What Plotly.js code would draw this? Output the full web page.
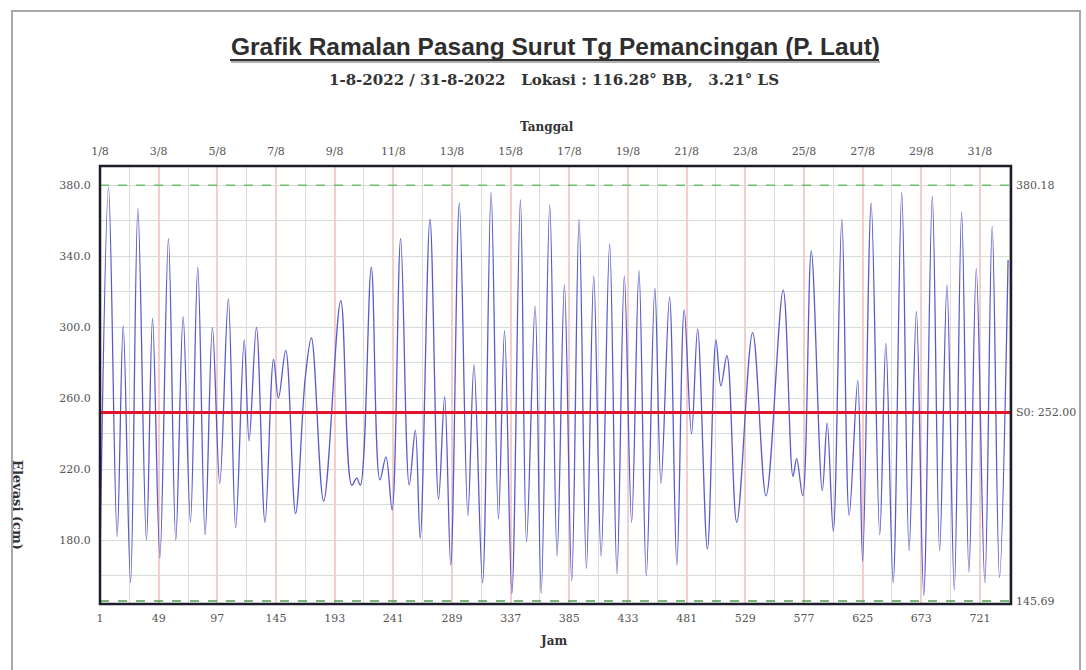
<!DOCTYPE html>
<html>
<head>
<meta charset="utf-8">
<script src="https://cdn.plot.ly/plotly-3.0.1.min.js"></script>
<style>
  html, body { margin: 0; padding: 0; background: #fff; }
  #wrap { position: relative; width: 1086px; height: 670px; overflow: hidden; }
  #border { position: absolute; left: 11px; top: 10px; width: 1070px; height: 700px;
            border: 2px solid #a8a8a8; box-sizing: border-box; pointer-events: none; }
  #chart { position: absolute; left: 0; top: 0; width: 1086px; height: 670px; }
</style>
</head>
<body>
<div id="wrap">
  <div id="chart"></div>
  <div id="border"></div>
</div>
<script>
// Turning points of the predicted tide (hour, elevation in cm)
const turnHours = [1, 8, 15, 20, 26, 32, 39, 44, 50, 57, 63, 69, 75, 81, 87, 93, 99, 106, 112, 119,
  123, 129, 136, 143, 147, 153, 161, 169, 174, 184, 198, 207, 211, 214, 223, 230, 235, 240, 247, 254,
  259, 263, 271, 278, 283, 288, 295, 302, 307, 314, 321, 327, 332, 338, 345, 350, 357, 362, 369, 375,
  381, 387, 393, 399, 405, 411, 418, 424, 430, 436, 442, 448, 455, 460, 467, 473, 479, 485, 490, 498,
  505, 509, 514, 522, 535, 546, 560, 568, 571, 576, 583, 592, 596, 601, 608, 614, 621, 625, 632, 639,
  644, 650, 657, 663, 669, 675, 682, 688, 694, 700, 706, 712, 718, 725, 731, 737, 744];
const turnElev = [168, 379, 182, 301, 156, 367, 180, 305, 170, 350, 180, 306, 190, 334, 183, 300, 212, 316, 187, 293,
  236, 300, 190, 282, 260, 287, 195, 272, 294, 202, 315, 211, 215, 211, 334, 214, 227, 197, 350, 211,
  242, 181, 361, 203, 261, 166, 370, 194, 279, 156, 376, 192, 298, 150, 372, 179, 312, 150, 369, 171,
  324, 157, 361, 164, 329, 171, 347, 161, 329, 190, 332, 160, 322, 212, 317, 166, 310, 240, 299, 175,
  293, 267, 284, 190, 297, 205, 321, 216, 226, 205, 343, 208, 246, 185, 361, 194, 270, 168, 370, 183,
  291, 156, 376, 174, 309, 149, 374, 174, 324, 152, 365, 162, 333, 156, 357, 159, 338];

// Reference levels
const maxLevel = 380.18;
const meanLevel = 252.00;
const minLevel = 145.69;

// Axis ticks
const hourTickVals = [1, 49, 97, 145, 193, 241, 289, 337, 385, 433, 481, 529, 577, 625, 673, 721];
const hourTickText = ['1', '49', '97', '145', '193', '241', '289', '337', '385', '433', '481', '529',
  '577', '625', '673', '721'];
const midDayHours = [25, 73, 121, 169, 217, 265, 313, 361, 409, 457, 505, 553, 601, 649, 697, 745];
const dateLabels = ['1/8', '3/8', '5/8', '7/8', '9/8', '11/8', '13/8', '15/8', '17/8', '19/8', '21/8',
  '23/8', '25/8', '27/8', '29/8', '31/8'];
const elevGridVals = [160, 180, 200, 220, 240, 260, 280, 300, 320, 340, 360, 380];
const elevGridText = ['', '180.0', '', '220.0', '', '260.0', '', '300.0', '', '340.0', '', '380.0'];

const serif = 'DejaVu Serif, Liberation Serif, serif';
const sans = 'Liberation Sans, Arial, sans-serif';

const traces = [
  {
    x: turnHours, y: turnElev, type: 'scatter', mode: 'lines',
    line: { color: '#5a5acb', width: 1.3, shape: 'spline', smoothing: 1 },
    hoverinfo: 'x+y', showlegend: false
  },
  {
    x: [hourTickVals[0]], y: [meanLevel], xaxis: 'x2', type: 'scatter', mode: 'markers',
    marker: { opacity: 0 }, hoverinfo: 'skip', showlegend: false
  }
];

const tickFont = { family: serif, size: 11, color: '#555' };

const layout = {
  width: 1086, height: 670,
  margin: { l: 100, r: 75, t: 166, b: 66, pad: 0 },
  paper_bgcolor: 'rgba(0,0,0,0)', plot_bgcolor: '#fff',
  showlegend: false,
  title: {
    text: '<b>Grafik Ramalan Pasang Surut Tg Pemancingan (P. Laut)</b>',
    font: { family: sans, size: 24.5, color: '#2e2e2e' },
    x: 0.5, xref: 'paper', xanchor: 'center',
    y: 1 - 46 / 670, yref: 'container', yanchor: 'middle'
  },
  xaxis: {
    range: [1, 746.4], tickmode: 'array', tickvals: hourTickVals, ticktext: hourTickText,
    showgrid: true, gridcolor: '#f7cccc', gridwidth: 2, zeroline: false, showline: false,
    minor: { tickmode: 'array', tickvals: midDayHours, showgrid: true, gridcolor: '#dcdcdc',
             gridwidth: 1, ticks: '' },
    ticks: 'outside', ticklen: 4, tickcolor: 'rgba(0,0,0,0)', tickfont: tickFont
  },
  xaxis2: {
    overlaying: 'x', side: 'top', anchor: 'y',
    range: [1, 746.4], tickmode: 'array', tickvals: hourTickVals, ticktext: dateLabels,
    showgrid: false, zeroline: false, showline: false,
    ticks: 'outside', ticklen: 6, tickcolor: 'rgba(0,0,0,0)', tickfont: tickFont
  },
  yaxis: {
    range: [144, 391], tickmode: 'array', tickvals: elevGridVals, ticktext: elevGridText,
    showgrid: true, gridcolor: '#d8dcd8', gridwidth: 1, zeroline: false, showline: false,
    ticks: 'outside', ticklen: 6, tickcolor: 'rgba(0,0,0,0)', tickfont: tickFont
  },
  shapes: [
    { type: 'line', xref: 'paper', yref: 'y', x0: 0, x1: 1, y0: maxLevel, y1: maxLevel,
      line: { color: '#6cbf6c', width: 1.5, dash: 'dash' }, layer: 'above' },
    { type: 'line', xref: 'paper', yref: 'y', x0: 0, x1: 1, y0: minLevel, y1: minLevel,
      line: { color: '#4f9f4f', width: 1.5, dash: 'dash' }, layer: 'above' },
    { type: 'line', xref: 'paper', yref: 'y', x0: 0, x1: 1, y0: meanLevel, y1: meanLevel,
      line: { color: '#e3122a', width: 3 }, layer: 'above' },
    { type: 'rect', xref: 'paper', yref: 'paper', x0: 0, x1: 1, y0: 0, y1: 1,
      line: { color: '#1c1c2a', width: 2.5 }, layer: 'above' },
    // title underline with soft shadow
    { type: 'line', xref: 'paper', yref: 'paper', x0: (231 - 100) / 911, x1: (880 - 100) / 911,
      y0: (604 - 62) / 438, y1: (604 - 62) / 438, line: { color: '#b0b0b0', width: 2 }, layer: 'above' },
    { type: 'line', xref: 'paper', yref: 'paper', x0: (230 - 100) / 911, x1: (879 - 100) / 911,
      y0: (604 - 60) / 438, y1: (604 - 60) / 438, line: { color: '#333', width: 2.2 }, layer: 'above' }
  ],
  annotations: [
    { text: '<b>1-8-2022 / 31-8-2022&nbsp;&nbsp;&nbsp;Lokasi : 116.28° BB,&nbsp;&nbsp;&nbsp;3.21° LS</b>',
      xref: 'paper', yref: 'paper', x: (554 - 100) / 911, y: (604 - 80) / 438,
      xanchor: 'center', yanchor: 'middle', showarrow: false,
      font: { family: serif, size: 15, color: '#333' } },
    { text: '<b>Tanggal</b>', xref: 'paper', yref: 'paper', x: (547 - 100) / 911, y: (604 - 127) / 438,
      xanchor: 'center', yanchor: 'middle', showarrow: false,
      font: { family: serif, size: 12, color: '#333' } },
    { text: '<b>Jam</b>', xref: 'paper', yref: 'paper', x: (553 - 100) / 911, y: (604 - 641) / 438,
      xanchor: 'center', yanchor: 'middle', showarrow: false,
      font: { family: serif, size: 12, color: '#333' } },
    { text: '<b>Elevasi (cm)</b>', xref: 'paper', yref: 'paper', x: (18 - 100) / 911, y: (604 - 505) / 438,
      xanchor: 'center', yanchor: 'middle', showarrow: false, textangle: 90,
      font: { family: serif, size: 13, color: '#333' } },
    { text: maxLevel.toFixed(2), xref: 'paper', yref: 'y', x: 1, y: maxLevel, xanchor: 'left',
      yanchor: 'middle', xshift: 3, showarrow: false, font: tickFont },
    { text: 'S0: ' + meanLevel.toFixed(2), xref: 'paper', yref: 'y', x: 1, y: meanLevel, xanchor: 'left',
      yanchor: 'middle', xshift: 3, showarrow: false, font: tickFont },
    { text: minLevel.toFixed(2), xref: 'paper', yref: 'y', x: 1, y: minLevel, xanchor: 'left',
      yanchor: 'middle', xshift: 3, showarrow: false, font: tickFont }
  ]
};

Plotly.newPlot('chart', traces, layout, { displayModeBar: false });
</script>
</body>
</html>
